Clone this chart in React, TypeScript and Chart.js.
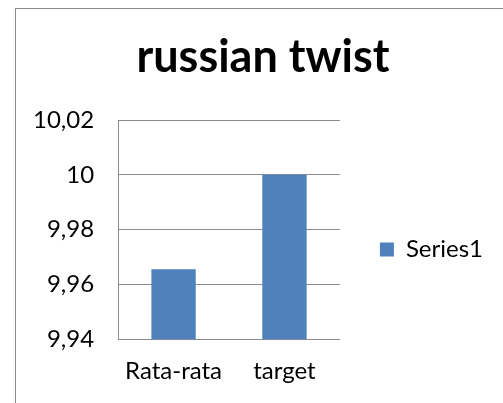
import React, { useEffect, useRef } from "react";
import { Chart, registerables } from "chart.js";

Chart.register(...registerables);

const categories = ["Rata-rata", "target"];
const seriesName = "Series1";
const seriesValues = [9.9655, 10];
const yTickLabels = ["9,94", "9,96", "9,98", "10", "10,02"];
const yMin = 9.94;
const yMax = 10.02;
const yStep = 0.02;
const titleText = "russian twist";

const FONT = "Lato, 'Open Sans', sans-serif";
const GRAY = "#8c8c8c";

const frame = {
  id: "frame",
  beforeDraw(chart: any) {
    const ctx = chart.ctx;
    ctx.save();
    ctx.fillStyle = "#ffffff";
    ctx.fillRect(0, 0, chart.width, chart.height);
    ctx.strokeStyle = GRAY;
    ctx.lineWidth = 1;
    ctx.strokeRect(15.5, 8.5, chart.width + 20, chart.height + 20);
    ctx.restore();
  },
};

export default function App() {
  const ref = useRef<HTMLCanvasElement | null>(null);
  useEffect(() => {
    if (!ref.current) return;
    const chart = new Chart(ref.current, {
      type: "bar",
      data: {
        labels: categories,
        datasets: [
          {
            label: seriesName,
            data: seriesValues,
            backgroundColor: "#4F81BD",
            categoryPercentage: 1,
            barPercentage: 0.4,
          },
        ],
      },
      options: {
        animation: false,
        responsive: false,
        maintainAspectRatio: false,
        layout: { padding: { left: 33, right: 10, top: 30, bottom: 17 } },
        plugins: {
          title: {
            display: true,
            text: titleText,
            color: "#000",
            font: { family: FONT, size: 45, weight: "bold", lineHeight: 1.2 },
            padding: { top: 0, bottom: 36 },
          },
          legend: {
            position: "right",
            maxWidth: 220,
            title: {
              display: true,
              text: " ",
              font: { family: FONT, size: 24, lineHeight: 1 },
              padding: { top: 0, bottom: 59 },
            },
            labels: {
              color: "#000",
              font: { family: FONT, size: 24 },
              boxWidth: 14,
              boxHeight: 14,
              padding: 40,
            },
          },
          tooltip: { enabled: false },
        },
        scales: {
          x: {
            grid: { display: false, drawTicks: true, tickLength: 18, tickColor: "rgba(0,0,0,0)" },
            border: { display: true, color: GRAY, width: 1 },
            ticks: { color: "#000", font: { family: FONT, size: 24 }, padding: 0, maxRotation: 0 },
          },
          y: {
            min: yMin,
            max: yMax,
            grid: { color: GRAY, lineWidth: 1, drawTicks: true, tickLength: 24, tickColor: "rgba(0,0,0,0)" },
            border: { display: true, color: GRAY, width: 1 },
            ticks: {
              stepSize: yStep,
              color: "#000",
              font: { family: FONT, size: 24 },
              padding: 0,
              callback: (_v: any, i: number) => yTickLabels[i],
            },
          },
        },
      },
      plugins: [frame],
    });
    return () => chart.destroy();
  }, []);
  return (
    <div style={{ position: "fixed", left: 0, top: 0, width: 503, height: 403, background: "#fff" }}>
      <canvas ref={ref} width={503} height={403} style={{ display: "block" }} />
    </div>
  );
}
